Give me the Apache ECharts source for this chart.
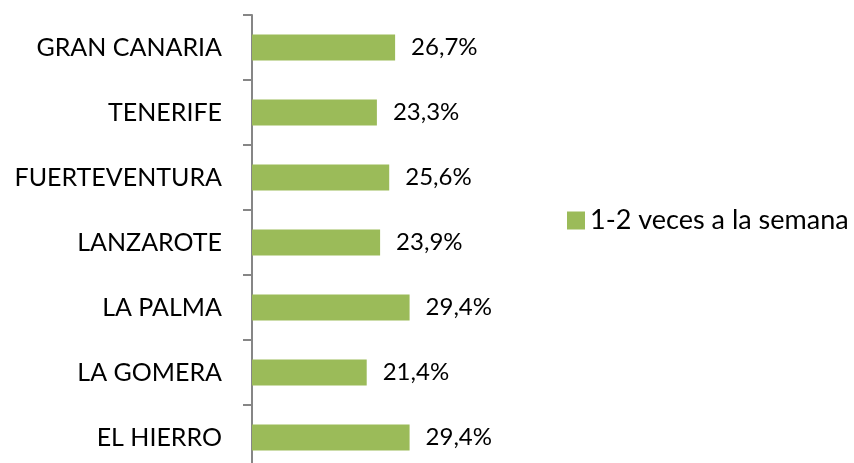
<!DOCTYPE html>
<html>
<head>
<meta charset="utf-8">
<script src="https://cdn.jsdelivr.net/npm/echarts@6/dist/echarts.min.js"></script>
<style>
  html, body { margin: 0; padding: 0; background: #fff; overflow: hidden; }
  #wrap { width: 854px; height: 463px; overflow: hidden; }
  #chart { width: 854px; height: 480px; }
</style>
</head>
<body>
<div id="wrap"><div id="chart"></div></div>
<script>
  // datos
  const islas = ['GRAN CANARIA', 'TENERIFE', 'FUERTEVENTURA', 'LANZAROTE', 'LA PALMA', 'LA GOMERA', 'EL HIERRO']
  const valores = [26.7, 23.3, 25.6, 23.9, 29.4, 21.4, 29.4]
  const serieNombre = '1-2 veces a la semana'

  const chart = echarts.init(document.getElementById('chart'))
  chart.setOption({
    animation: false,
    textStyle: { fontFamily: 'Lato' },
    legend: {
      left: 562,
      top: 202,
      itemWidth: 18,
      itemHeight: 18,
      itemGap: 6,
      icon: 'rect',
      textStyle: { fontSize: 27, color: '#000', fontFamily: 'Lato' },
      data: [serieNombre]
    },
    grid: {
      left: 252,
      top: 15,
      width: 536,
      height: 455
    },
    xAxis: {
      type: 'value',
      min: 0,
      max: 100,
      show: false
    },
    yAxis: {
      type: 'category',
      inverse: true,
      data: islas,
      axisLine: { show: true, lineStyle: { color: '#868686', width: 2 } },
      axisTick: { show: true, length: 9, inside: false, lineStyle: { color: '#868686', width: 2 } },
      axisLabel: { margin: 30, fontSize: 25, color: '#000', fontFamily: 'Lato' },
      splitLine: { show: false }
    },
    series: [{
      name: serieNombre,
      type: 'bar',
      data: valores,
      barWidth: 26,
      itemStyle: { color: '#9BBB59' },
      label: {
        show: true,
        position: 'right',
        distance: 16,
        fontSize: 24,
        color: '#000',
        fontFamily: 'Lato',
        formatter: p => p.value.toFixed(1).replace('.', ',') + '%'
      }
    }]
  })
</script>
</body>
</html>
